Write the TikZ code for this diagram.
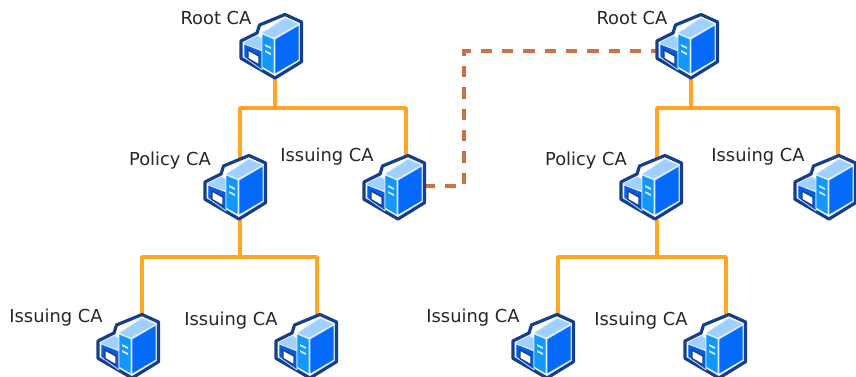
\documentclass[tikz,border=0pt]{standalone}
\usepackage{fontspec}
\setmainfont{DejaVu Sans}
\usetikzlibrary{calc}
\definecolor{bus}{RGB}{255,166,38}
\definecolor{trust}{RGB}{205,112,72}
\definecolor{edge}{RGB}{22,62,140}
\definecolor{topface}{RGB}{160,208,255}
\definecolor{midface}{RGB}{20,150,250}
\definecolor{darkface}{RGB}{5,105,250}
\tikzset{
  anchorbox/.style={minimum width=41.25pt,minimum height=43.5pt,inner sep=0,outer sep=0},
  tag/.style={inner sep=0,font=\fontsize{13.4pt}{16pt}\selectfont,text=black!85},
  feeder/.style={draw=bus,line width=2.7pt},
  trustlink/.style={draw=trust,line width=2.4pt,dash pattern=on 8.5pt off 7.5pt},
  outline/.style={draw=edge,fill=white,line width=2.4pt,line join=round},
  face/.style={line join=round,draw=white!60!topface,line width=.5pt}
}
% icon box: name, bbox left, bbox top (pixels)
\newcommand{\placebox}[3]{\node[anchorbox] (#1) at ({#2+36},{#3+37}) {};}
\newcommand{\servericon}[2]{%
\begin{scope}[shift={(#1,#2)}]
  \path[outline] (2,28) -- (18,20) -- (20.5,12) -- (46,1.5) -- (62.5,9) -- (62.5,48.7) -- (36,65) -- (2,45.3) -- cycle;
  % small box
  \filldraw[face,fill=topface] (5,29) -- (18,22.5) -- (23,25) -- (23,37) -- (5,31) -- cycle;
  \filldraw[face,fill=darkface!90!black] (5,31) -- (23,38) -- (23,57) -- (5,44) -- cycle;
  \fill[white] (9,37) -- (20,43) -- (20,52) -- (9,45.5) -- cycle;
  \draw[edge,line width=1pt,line join=round] (9,37) -- (20,43) -- (20,52) -- (9,45.5) -- cycle;
  % tower
  \filldraw[face,fill=topface] (23,20) -- (46,5) -- (60,11) -- (35,25) -- cycle;
  \filldraw[face,fill=midface] (23,21) -- (35,26) -- (35,61) -- (23,54) -- cycle;
  \filldraw[face,fill=darkface] (36,26) -- (60,12) -- (60,47) -- (36,61) -- cycle;
  \fill[white!80!midface] (26,31) -- (32,34) -- (32,36) -- (26,33) -- cycle;
  \fill[white!80!midface] (26,37) -- (32,40) -- (32,42) -- (26,39) -- cycle;
\end{scope}}
\begin{document}
\begin{tikzpicture}[x=0.75pt,y=-0.75pt]
\useasboundingbox (0,0) rectangle (856,376);
\clip (0,0) rectangle (856,376);
\placebox{rootA}{239}{13}
\placebox{policyA}{204}{154}
\placebox{issueA}{370}{154}
\placebox{leafAa}{106}{313}
\placebox{leafAb}{281}{313}
\placebox{rootB}{655}{13}
\placebox{policyB}{621}{154}
\placebox{issueB}{802}{154}
\placebox{leafBa}{522}{313}
\placebox{leafBb}{690}{313}
% feeders
\foreach \p/\a/\b/\y in {rootA/policyA/issueA/108,policyA/leafAa/leafAb/257,rootB/policyB/issueB/108,policyB/leafBa/leafBb/257}{
  \draw[feeder] (\p.south) -- (\p.south |- 0,\y);
  \draw[feeder,line join=round] (\a.north) -- (\a.north |- 0,\y) -- (\b.north |- 0,\y) -- (\b.north);
}
% link between hierarchies
\draw[trustlink] ($(issueA.east)+(-10,-5)$) -| (464,51) -- (rootB.west |- 0,51);
% icons
\servericon{239}{13}
\servericon{203}{154}
\servericon{362}{154}
\servericon{96}{313}
\servericon{274}{313}
\servericon{655}{13}
\servericon{619}{154}
\servericon{793}{154}
\servericon{511}{313}
\servericon{683}{313}
% labels
\node[tag] (t1) at (216,18) {Root CA};
\node[tag] (t2) at (170,161) {Policy CA};
\node[tag] (t3) at (327,157) {Issuing CA};
\node[tag] (t4) at (632,18) {Root CA};
\node[tag] (t5) at (586,161) {Policy CA};
\node[tag] (t6) at (758,157) {Issuing CA};
\node[tag] (t7) at (56,318) {Issuing CA};
\node[tag] (t8) at (231,321) {Issuing CA};
\node[tag] (t9) at (473,318) {Issuing CA};
\node[tag] (t10) at (641,321) {Issuing CA};
\end{tikzpicture}
\end{document}
